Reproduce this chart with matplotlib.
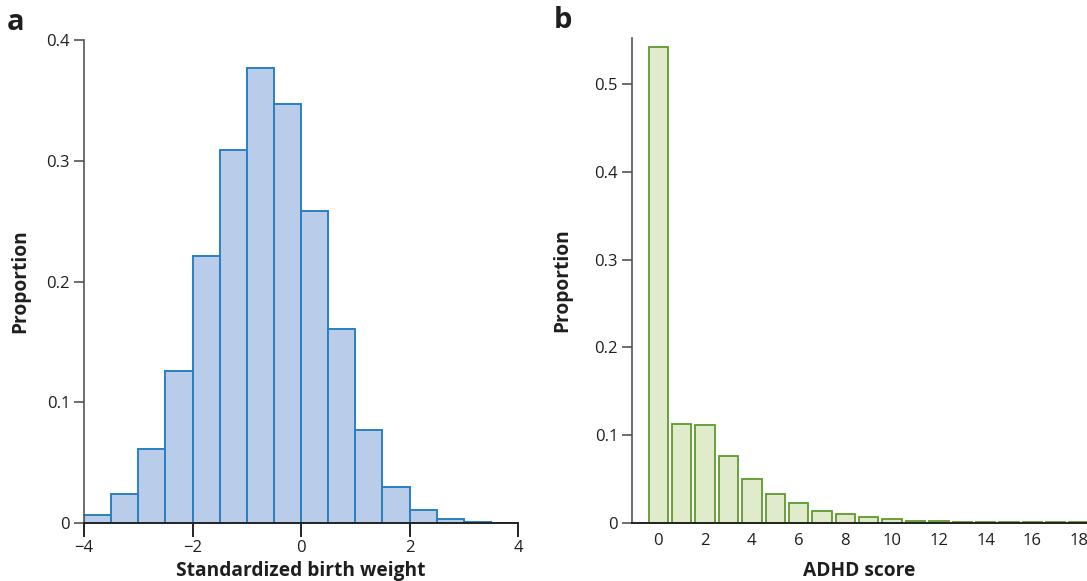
import matplotlib
matplotlib.use("Agg")
import matplotlib.pyplot as plt
import numpy as np

plt.rcParams['font.family'] = ['Open Sans', 'DejaVu Sans']

# Panel a: standardized birth weight histogram
bw_edges = [-4.0, -3.5, -3.0, -2.5, -2.0, -1.5, -1.0, -0.5, 0.0, 0.5, 1.0, 1.5, 2.0, 2.5, 3.0, 3.5, 4.0]
bw_props = [0.0063, 0.024, 0.061, 0.126, 0.221, 0.309, 0.377, 0.347, 0.258, 0.161, 0.077, 0.030, 0.0108, 0.0033, 0.0006, 0.0003]
bw_xticks = [-4, -2, 0, 2, 4]
bw_xticklabels = ['\u22124', '\u22122', '0', '2', '4']
bw_yticks = [0, 0.1, 0.2, 0.3, 0.4]
bw_yticklabels = ['0', '0.1', '0.2', '0.3', '0.4']

# Panel b: ADHD score distribution
adhd_scores = list(range(19))
adhd_props = [0.5425, 0.1124, 0.112, 0.0767, 0.050, 0.0327, 0.0224, 0.0133, 0.0103, 0.0065,
              0.0042, 0.0027, 0.0027, 0.0015, 0.0015, 0.0015, 0.0008, 0.0008, 0.0008]
adhd_xticks = list(range(0, 19, 2))
adhd_yticks = [0, 0.1, 0.2, 0.3, 0.4, 0.5]
adhd_yticklabels = ['0', '0.1', '0.2', '0.3', '0.4', '0.5']

blue_fill = '#b9cce9'
blue_edge = '#2a7fc4'
green_fill = '#dfebca'
green_edge = '#5e9a2c'
spine_col = '#555555'
text_col = '#1e1e1e'

fig = plt.figure(figsize=(10.87, 5.81), dpi=100)

tick_fs = 12
label_fs = 13.8

# ---- Panel a
ax1 = fig.add_axes([84/1087, 58/581, 434/1087, 483/581])
widths = np.diff(bw_edges)
ax1.bar(bw_edges[:-1], bw_props, width=widths, align='edge', color=blue_fill,
        edgecolor=blue_edge, linewidth=1.4, zorder=2)
ax1.set_xlim(-4, 4)
ax1.set_ylim(0, 0.4)
ax1.set_xticks(bw_xticks)
ax1.set_xticklabels(bw_xticklabels)
ax1.set_yticks(bw_yticks)
ax1.set_yticklabels(bw_yticklabels)
for s in ['top', 'right']:
    ax1.spines[s].set_visible(False)
ax1.spines['left'].set_color(spine_col)
ax1.spines['left'].set_linewidth(1.2)
ax1.spines['bottom'].set_color('#222222')
ax1.spines['bottom'].set_linewidth(1.4)
ax1.spines['bottom'].set_zorder(3)
ax1.tick_params(axis='y', length=7, width=1.2, color=spine_col, labelsize=tick_fs, pad=3, labelcolor=text_col)
ax1.tick_params(axis='x', length=10, width=1.4, color='#222222', labelsize=tick_fs, pad=2, labelcolor=text_col)
ax1.set_xlabel('Standardized birth weight', fontsize=label_fs, fontweight='bold', labelpad=4, color=text_col)
ax1.set_ylabel('Proportion', fontsize=label_fs, fontweight='bold', labelpad=12, color=text_col)
fig.text(16/1087, 1 - 22/581, 'a', fontsize=21, fontweight='bold', ha='center', va='center', color=text_col)

# ---- Panel b
ax2 = fig.add_axes([632/1087, 58/581, 455/1087, 485/581])
ax2.bar(adhd_scores, adhd_props, width=0.83, color=green_fill, edgecolor=green_edge,
        linewidth=1.3, zorder=2)
ax2.set_xlim(-1.13, 18.34)
ax2.set_ylim(0, 0.5524)
ax2.set_xticks(adhd_xticks)
ax2.set_yticks(adhd_yticks)
ax2.set_yticklabels(adhd_yticklabels)
for s in ['top', 'right']:
    ax2.spines[s].set_visible(False)
ax2.spines['left'].set_color(spine_col)
ax2.spines['left'].set_linewidth(1.2)
ax2.spines['bottom'].set_color('#222222')
ax2.spines['bottom'].set_linewidth(1.4)
ax2.spines['bottom'].set_zorder(3)
ax2.tick_params(axis='y', length=7, width=1.2, color=spine_col, labelsize=tick_fs, pad=3, labelcolor=text_col)
ax2.tick_params(axis='x', length=0, labelsize=tick_fs, pad=7, labelcolor=text_col)
ax2.set_xlabel('ADHD score', fontsize=label_fs, fontweight='bold', labelpad=9, color=text_col)
ax2.set_ylabel('Proportion', fontsize=label_fs, fontweight='bold', labelpad=16, color=text_col)
fig.text(563/1087, 1 - 21/581, 'b', fontsize=21, fontweight='bold', ha='center', va='center', color=text_col)

fig.savefig('out.png', dpi=100)
